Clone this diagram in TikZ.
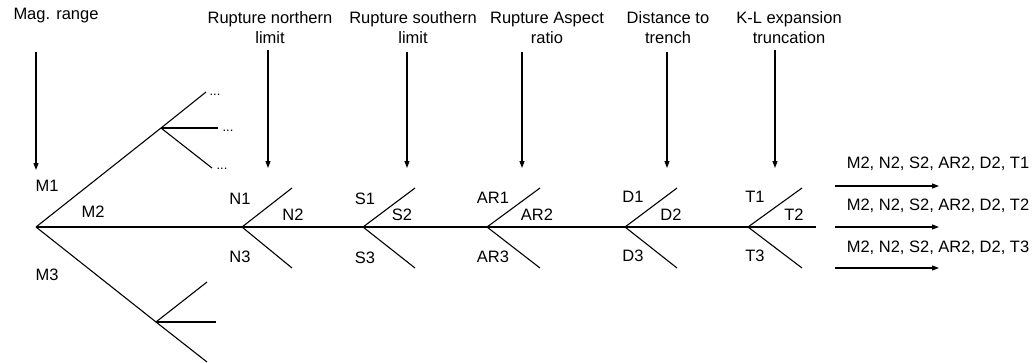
\documentclass[tikz,border=0pt]{standalone}
\usepackage{fontspec}
\setmainfont{Liberation Sans}
\usetikzlibrary{arrows.meta}

\begin{document}
\begin{tikzpicture}[x=1pt, y=-1pt, line width=1.1pt,
	every node/.style={font=\fontsize{16.5}{20}\selectfont, inner sep=0pt},
	title/.style={align=center},
	down/.style={-{Triangle[length=7pt,width=5pt]}}]
			\useasboundingbox (0, 0) rectangle (1033, 362);
			% titles of the stages
			\draw
			node[title] (t_mag) at (56, 16){Mag. range}
			node[title] (t_north) at (270, 28){Rupture northern\\limit}
			node[title] (t_south) at (413, 28){Rupture southern\\limit}
			node[title] (t_ar) at (547, 28){Rupture Aspect\\ratio}
			node[title] (t_dist) at (668, 28){Distance to\\trench}
			node[title] (t_kl) at (789, 28){K-L expansion\\truncation};
			% junctions and branch ends
			\coordinate (root) at (36, 227);
			\coordinate (m1b) at (161, 128);
			\coordinate (m1u) at (206, 92);
			\coordinate (m1h) at (218, 128);
			\coordinate (m1d) at (212, 168);
			\coordinate (m3b) at (156, 322);
			\coordinate (m3u) at (207, 282);
			\coordinate (m3h) at (216, 322);
			\coordinate (m3d) at (207, 362);
			\coordinate (n) at (242, 227);
			\coordinate (s) at (363, 227);
			\coordinate (ar) at (487, 227);
			\coordinate (d) at (625, 227);
			\coordinate (t) at (748, 227);
			\coordinate (tend) at (816, 227);
			% M branches
			\draw (root) -- (m1b) -- (m1u);
				\draw (m1b) -- (m1h);
				\draw (m1b) -- (m1d);
			\draw (root) -- (m3b) -- (m3d);
				\draw (m3b) -- (m3u);
				\draw (m3b) -- (m3h);
			\draw (root) -- (n) -- (s) -- (ar) -- (d) -- (t) -- (tend);
			% forks
			\draw (n) -- ++(50, -39);
			\draw (n) -- ++(50, 41);
			\draw (s) -- ++(52, -39);
			\draw (s) -- ++(52, 41);
			\draw (ar) -- ++(53, -39);
			\draw (ar) -- ++(53, 41);
			\draw (d) -- ++(52, -39);
			\draw (d) -- ++(52, 41);
			\draw (t) -- ++(54, -39);
			\draw (t) -- ++(54, 41);
			% unfinished branches
			\draw
			node[anchor=base west, font=\fontsize{13}{15}\selectfont] (dots1) at (209, 95){...}
			node[anchor=base west, font=\fontsize{13}{15}\selectfont] (dots2) at (222, 131){...}
			node[anchor=base west, font=\fontsize{13}{15}\selectfont] (dots3) at (216, 169){...};
			% labels
			\draw
			node (l_m1) at (47, 186){M1}
			node (l_m2) at (93, 212){M2}
			node (l_m3) at (47, 275){M3}
			node (l_n1) at (240, 199){N1}
			node (l_n2) at (293, 215){N2}
			node (l_n3) at (240, 257){N3}
			node (l_s1) at (365, 199){S1}
			node (l_s2) at (402, 215){S2}
			node (l_s3) at (365, 258){S3}
			node (l_ar1) at (493, 198){AR1}
			node (l_ar2) at (537, 215){AR2}
			node (l_ar3) at (493, 257){AR3}
			node (l_d1) at (633, 197){D1}
			node (l_d2) at (671, 215){D2}
			node (l_d3) at (633, 256){D3}
			node (l_t1) at (755, 197){T1}
			node (l_t2) at (794, 215){T2}
			node (l_t3) at (755, 256){T3};
			% stage arrows
			\coordinate (a_mag) at (36, 52);
			\coordinate (a_north) at (268, 50);
			\coordinate (a_south) at (407, 52);
			\coordinate (a_ar) at (522, 52);
			\coordinate (a_dist) at (667, 52);
			\coordinate (a_kl) at (775, 50);
			\draw [down] (a_mag) -- ++(0, 118);
			\draw [down] (a_north) -- ++(0, 118);
			\draw [down] (a_south) -- ++(0, 116);
			\draw [down] (a_ar) -- ++(0, 116);
			\draw [down] (a_dist) -- ++(0, 116);
			\draw [down] (a_kl) -- ++(0, 118);
			% outcomes
			\draw
			node (o1) at (938, 164){M2, N2, S2, AR2, D2, T1}
			node (o2) at (938, 206){M2, N2, S2, AR2, D2, T2}
			node (o3) at (938, 248){M2, N2, S2, AR2, D2, T3};
			\coordinate (o1s) at (835, 186);
			\coordinate (o2s) at (835, 227);
			\coordinate (o3s) at (835, 268);
			\draw [down] (o1s) -- ++(104, 0);
			\draw [down] (o2s) -- ++(104, 0);
			\draw [down] (o3s) -- ++(104, 0);
		\end{tikzpicture}
\end{document}
